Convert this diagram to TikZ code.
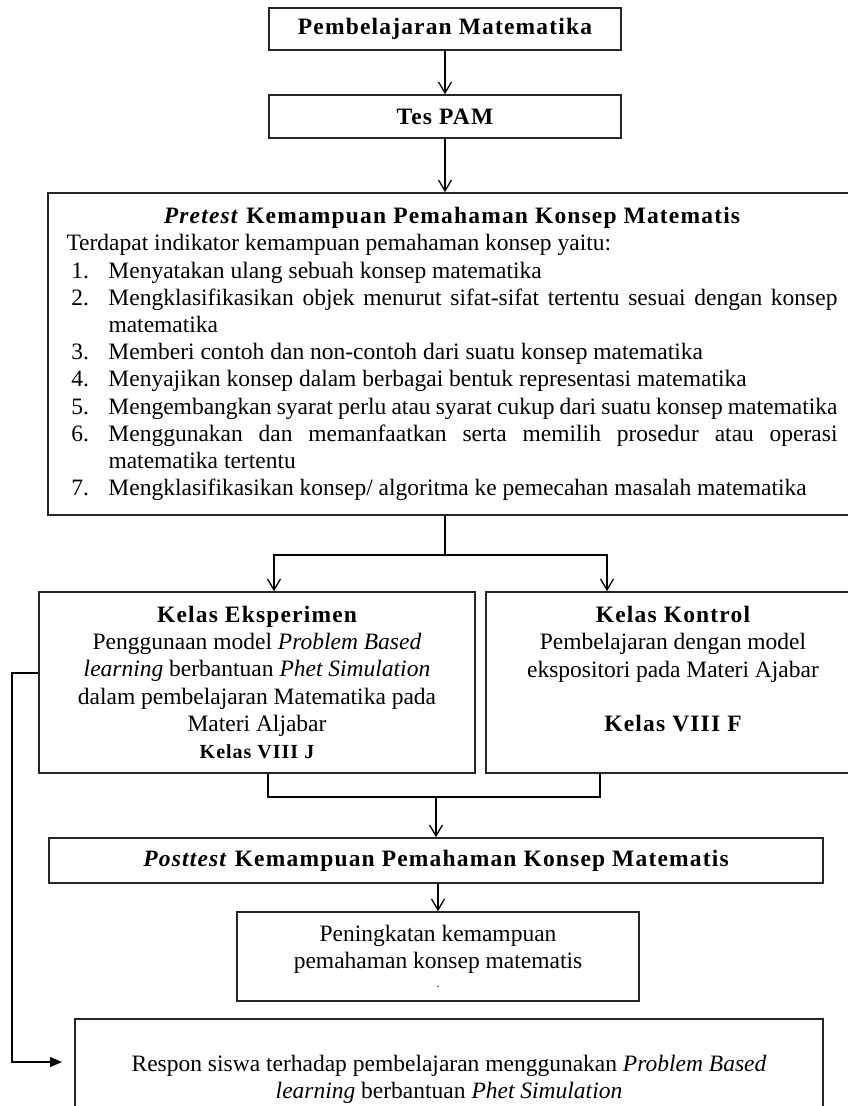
\documentclass[tikz,border=0pt]{standalone}
\usepackage{fontspec}
\setmainfont{Liberation Serif}
\newfontfamily\spaced[LetterSpace=5]{Liberation Serif}
\usetikzlibrary{arrows.meta}
\setlength{\parindent}{0pt}
\hyphenpenalty=10000
\exhyphenpenalty=10000
\newcommand{\bodysize}{\fontsize{23.5}{27.2}\selectfont}
\newcommand{\head}[1]{{\spaced\bfseries #1}}
\newcommand{\itm}[1]{\hangindent=42pt\hangafter=1\noindent\makebox[42pt][l]{\hspace{5pt}#1}}

\begin{document}
\begin{tikzpicture}[x=1pt,y=-1pt,
    box/.style={draw=black!85, line width=1.6pt, inner sep=0pt, align=center, font=\bodysize},
    arr/.style={-{Straight Barb[length=11pt,width=13pt,line width=1.3pt]}, line width=1.3pt},
    fbarr/.style={-{Triangle[length=12pt,width=10pt]}, line width=1.2pt}]
  \useasboundingbox (0,0) rectangle (847,1106);
  % alur atas
  \node[box, minimum width=352pt, minimum height=42pt] (pm) at (445,29) {\head{Pembelajaran Matematika}};
  \node[box, minimum width=352pt, minimum height=43pt] (tes) at (445,116.5) {\head{Tes PAM}};
  \node[box, text width=771pt, inner xsep=18.5pt, minimum height=322pt, align=justify] (pre) at (452,354) {%
    \hyphenpenalty=10000
    {\centering\head{\textit{Pretest} Kemampuan Pemahaman Konsep Matematis}\par}
    \noindent Terdapat indikator kemampuan pemahaman konsep yaitu:\par
    \itm{1.}Menyatakan ulang sebuah konsep matematika\par
    \itm{2.}Mengklasifikasikan objek menurut sifat-sifat tertentu sesuai dengan konsep matematika\par
    \itm{3.}Memberi contoh dan non-contoh dari suatu konsep matematika\par
    \itm{4.}Menyajikan konsep dalam berbagai bentuk representasi matematika\par
    \itm{5.}Mengembangkan syarat perlu atau syarat cukup dari suatu konsep matematika\par
    \itm{6.}Menggunakan dan memanfaatkan serta memilih prosedur atau operasi matematika tertentu\par
    \itm{7.}Mengklasifikasikan konsep/ algoritma ke pemecahan masalah matematika};
  % kelas
  \node[box, minimum width=436pt, minimum height=181pt] (eks) at (257,682.5) {%
    \head{Kelas Eksperimen}\\
    Penggunaan model \textit{Problem Based}\\
    \textit{learning} berbantuan \textit{Phet Simulation}\\
    dalam pembelajaran Matematika pada\\
    Materi Aljabar\\
    {\fontsize{20}{23}\selectfont\head{Kelas VIII J}}};
  \node[box, minimum width=374pt, minimum height=181pt] (kon) at (673,682.5) {%
    \head{Kelas Kontrol}\\
    Pembelajaran dengan model\\
    ekspositori pada Materi Ajabar\\
    \mbox{}\\
    \head{Kelas VIII F}\\
    \mbox{}};
  % hasil
  \node[box, minimum width=774pt, minimum height=45pt] (post) at (436,860.5) {\head{\textit{Posttest} Kemampuan Pemahaman Konsep Matematis}};
  \node[box, minimum width=402pt, minimum height=89pt] (pen) at (438,956.5) {%
    Peningkatan kemampuan\\
    pemahaman konsep matematis\\[-8pt]
    {\fontsize{12}{8}\selectfont .}};
  \node[box, minimum width=748pt, minimum height=121pt] (res) at (449,1079.5) {%
    Respon siswa terhadap pembelajaran menggunakan \textit{Problem Based}\\
    \textit{learning} berbantuan \textit{Phet Simulation}};
  % titik bantu
  \coordinate (split) at (445,555);
  \coordinate (sl) at (274,555);
  \coordinate (sr) at (607,555);
  \coordinate (ml) at (268,797);
  \coordinate (mr) at (600,797);
  \coordinate (merge) at (436,797);
  \coordinate (fb) at (12,673);
  \coordinate (fe) at (62,1062);
  % panah
  \draw[arr] (pm.south) -- (tes.north);
  \draw[arr] (tes.south) -- (tes.south |- pre.north);
  \draw[line width=1.3pt] (pre.south -| split) -- (split);
  \foreach \c in {sl,sr}
    \draw[arr] (split) -- (\c) -- (\c |- eks.north);
  \draw[line width=1.3pt] (ml |- eks.south) -- (ml) -- (mr) -- (mr |- kon.south);
  \draw[arr] (merge) -- (merge |- post.north);
  \draw[arr] (post.south -| pen) -- (pen.north);
  \draw[fbarr] (eks.west |- fb) -- (fb) |- (fe);
\end{tikzpicture}
\end{document}
